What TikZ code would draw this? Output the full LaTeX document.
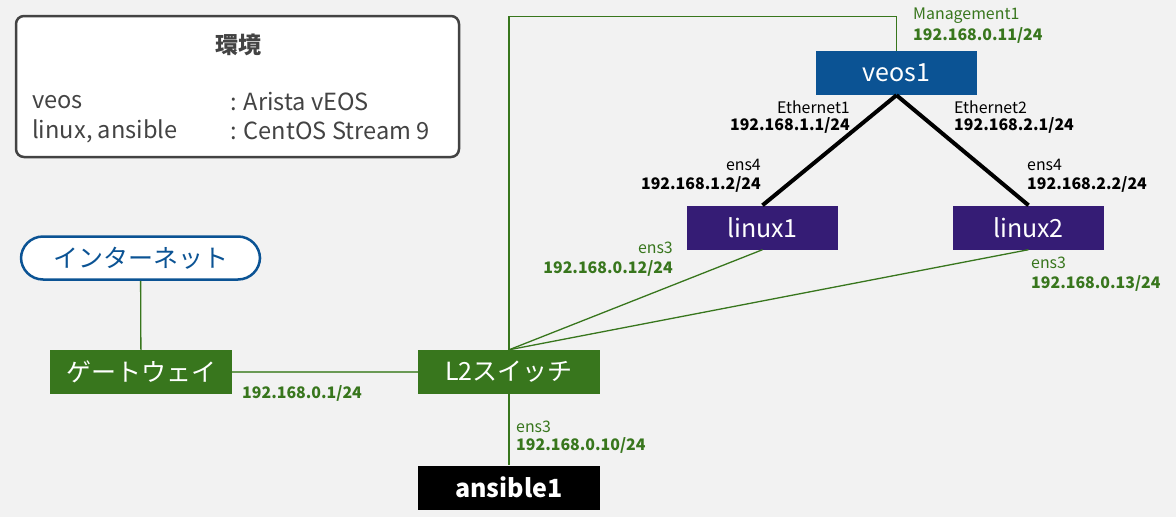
\documentclass[tikz,border=0pt]{standalone}
\usepackage{fontspec}
\setmainfont{Noto Sans CJK JP}
\usepackage{tikz}
\definecolor{bgcol}{HTML}{F2F2F2}
\definecolor{veosblue}{HTML}{0B5394}
\definecolor{linuxpurple}{HTML}{351C75}
\definecolor{netgreen}{HTML}{38761D}
\definecolor{linkgreen}{HTML}{6A9A55}
\definecolor{envgray}{HTML}{434343}
\begin{document}
\begin{tikzpicture}[x=1pt,y=-1pt,
    every node/.style={inner sep=0pt},
    dev/.style={minimum width=182pt,minimum height=44pt,text=white,font=\fontsize{25}{30}\selectfont},
    host/.style={dev,minimum width=151pt},
    lbl/.style={font=\fontsize{15.9}{19}\selectfont},
    ip/.style={font=\fontsize{15.9}{19}\selectfont\bfseries},
    envtext/.style={anchor=west,text=envgray,font=\fontsize{23.6}{28}\selectfont},
    mgmt/.style={netgreen,line width=1.3pt},
    eth/.style={black,line width=4pt}]
  \fill [bgcol] (0,0) rectangle (1176,517);
  \useasboundingbox (0,0) rectangle (1176,517);
  \node (envbox) at (237.5,86.5) [draw=envgray,line width=2.5pt,rounded corners=8pt,fill=white,minimum width=443pt,minimum height=141pt] {};
  \node (envtitle) at (238,45) [text=envgray,font=\fontsize{23}{27}\selectfont\bfseries] {環境};
  \node (envveos) at (32,102) [envtext] {veos};
  \node (envveosos) at (230,102) [envtext] {: Arista vEOS};
  \node (envlinux) at (32,131) [envtext] {linux, ansible};
  \node (envlinuxos) at (230,131) [envtext] {: CentOS Stream 9};
  \node (veos) at (896.5,73) [dev,fill=veosblue,minimum width=161pt] {veos1};
  \node (linux1) at (762.5,227.5) [host,fill=linuxpurple] {linux1};
  \node (linux2) at (1028.5,227.5) [host,fill=linuxpurple] {linux2};
  \node (internet) at (140.5,258) [dev,draw=veosblue,line width=2.5pt,fill=white,text=veosblue,rounded corners=22pt,minimum width=239pt,minimum height=43pt] {インターネット};
  \node (gateway) at (141,372) [dev,fill=netgreen] {ゲートウェイ};
  \node (l2sw) at (509,372) [dev,fill=netgreen] {L2スイッチ};
  \node (ansible) at (509,487.5) [dev,fill=black,font=\fontsize{25}{30}\selectfont\bfseries] {ansible1};
  \coordinate (mgmtbend) at (509,16.5);
  \draw [mgmt] (internet) -- (gateway);
  \draw [linkgreen,line width=2.2pt] (gateway) -- (l2sw);
  \draw [mgmt] (l2sw.north) -- (mgmtbend) -| (veos.north);
  \draw [mgmt] (l2sw.north) -- (linux1.south);
  \draw [mgmt] (l2sw.north) -- (linux2.south);
  \draw [mgmt] (l2sw) -- (ansible);
  \draw [eth] (veos.south) -- (linux1.north);
  \draw [eth] (veos.south) -- (linux2.north);
  \node (mgmtif) at (913,16) [lbl,anchor=west,text=netgreen] {Management1};
  \node (mgmtip) at (913,35) [ip,anchor=west,text=netgreen] {192.168.0.11/24};
  \node (eth1if) at (850,107) [lbl,anchor=east] {Ethernet1};
  \node (eth1ip) at (850,125) [ip,anchor=east] {192.168.1.1/24};
  \node (eth2if) at (954,107) [lbl,anchor=west] {Ethernet2};
  \node (eth2ip) at (954,125) [ip,anchor=west] {192.168.2.1/24};
  \node (l1ens4if) at (761,165) [lbl,anchor=east] {ens4};
  \node (l1ens4ip) at (761,184) [ip,anchor=east] {192.168.1.2/24};
  \node (l2ens4if) at (1027,165) [lbl,anchor=west] {ens4};
  \node (l2ens4ip) at (1027,184) [ip,anchor=west] {192.168.2.2/24};
  \node (l1ens3if) at (673,248) [lbl,anchor=east,text=netgreen] {ens3};
  \node (l1ens3ip) at (673,268) [ip,anchor=east,text=netgreen] {192.168.0.12/24};
  \node (l2ens3if) at (1031,263) [lbl,anchor=west,text=netgreen] {ens3};
  \node (l2ens3ip) at (1031,283) [ip,anchor=west,text=netgreen] {192.168.0.13/24};
  \node (gwip) at (242,393) [ip,anchor=west,text=netgreen] {192.168.0.1/24};
  \node (anens3if) at (516,427) [lbl,anchor=west,text=netgreen] {ens3};
  \node (anens3ip) at (516,445) [ip,anchor=west,text=netgreen] {192.168.0.10/24};
\end{tikzpicture}
\end{document}
